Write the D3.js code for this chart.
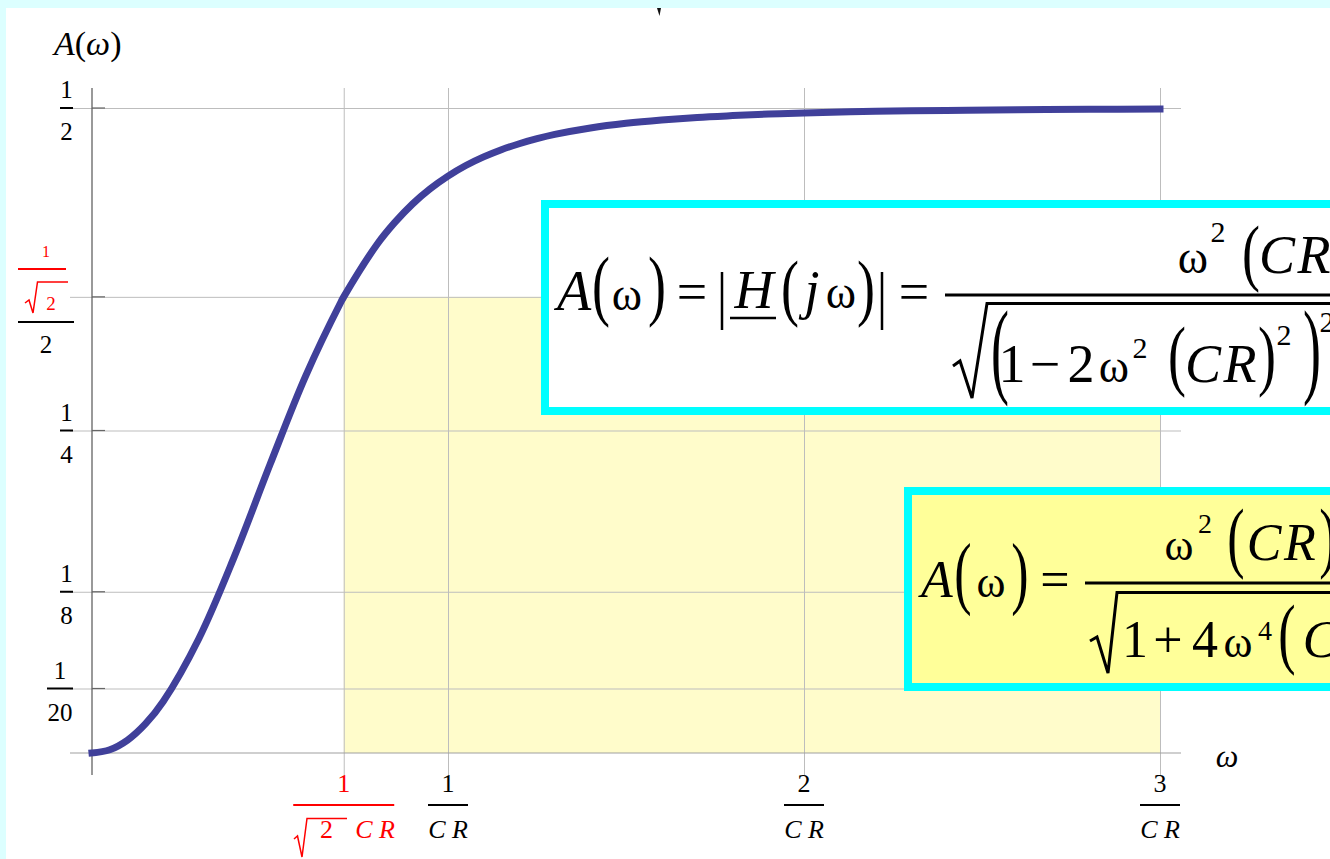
<!DOCTYPE html>
<html>
<head>
<meta charset="utf-8">
<script src="https://cdn.jsdelivr.net/npm/d3@7"></script>
<style>
  html, body { margin: 0; padding: 0; background: #d9ffff; }
  svg { display: block; }
</style>
</head>
<body>
<svg id="chart" width="1330" height="859"></svg>
<script>
// Amplitude response of the RC high-pass: omega in units of 1/(CR), A(omega) values
const omegaCR = [0, 0.05, 0.1, 0.15, 0.2, 0.3, 0.4, 0.5, 0.6, 0.7, 0.7071, 0.8, 0.85, 0.9, 0.95,
                 1.0, 1.05, 1.1, 1.15, 1.2, 1.25, 1.3, 1.4, 1.5, 1.6, 1.7, 1.8, 1.9, 2.0,
                 2.2, 2.4, 2.6, 2.8, 3.0];
const amplitude = [0, 0.0025, 0.0100, 0.0225, 0.0399, 0.0886, 0.1524, 0.2236, 0.2922, 0.3500,
                   0.3536, 0.3940, 0.4111, 0.4255, 0.4374, 0.4472, 0.4554, 0.4621, 0.4677,
                   0.4723, 0.4762, 0.4795, 0.4845, 0.4881, 0.4907, 0.4927, 0.4941, 0.4953,
                   0.4961, 0.4974, 0.4981, 0.4986, 0.4990, 0.4992];

// Tick positions and their fraction labels
const xTickValues = [0.7071, 1, 2, 3];
const xTickNumerators = ["1", "1", "2", "3"];
const yTickValues = [0.05, 0.125, 0.25, 0.3536, 0.5];
const yTickNumerators = ["1", "1", "1", "1", "1"];
const yTickDenominators = ["20", "8", "4", "2", "2"];

// Cut-off corner of the shaded region
const cutoffOmega = 0.7071;
const cutoffAmplitude = 0.3536;

const svg = d3.select("#chart");
const W = 1330, H = 859;

const x = d3.scaleLinear().domain([0, 3]).range([92, 1160]);
const y = d3.scaleLinear().domain([0, 0.5]).range([753, 108]);

const FONT = '"Liberation Serif", "Times New Roman", Times, serif';

// page background and white slide area
svg.append("rect").attr("width", W).attr("height", H).attr("fill", "#dcffff");
svg.append("rect").attr("x", 6).attr("y", 8).attr("width", W).attr("height", H).attr("fill", "#ffffff");
// small mark at the top edge
svg.append("path").attr("d", "M657,8 L661,8 L659.5,16 Z").attr("fill", "#111");

// shaded band above the cut-off
svg.append("rect")
  .attr("x", x(cutoffOmega)).attr("y", y(cutoffAmplitude))
  .attr("width", x(3) - x(cutoffOmega)).attr("height", y(0) - y(cutoffAmplitude))
  .attr("fill", "#fffccb");

// grid lines drawn with d3 axes
const gridY = svg.append("g").attr("transform", "translate(70,0)")
  .call(d3.axisLeft(y).tickValues(yTickValues).tickSize(-(1181 - 70)).tickFormat(""));
gridY.select(".domain").remove();
gridY.selectAll("line").attr("stroke", "#bdbdbd").attr("stroke-width", 1);

const gridX = svg.append("g").attr("transform", "translate(0,775)")
  .call(d3.axisBottom(x).tickValues(xTickValues).tickSize(-(775 - 88)).tickFormat(""));
gridX.select(".domain").remove();
gridX.selectAll("line").attr("stroke", "#bdbdbd").attr("stroke-width", 1);

// axes
svg.append("line").attr("x1", 70).attr("x2", 1181).attr("y1", y(0)).attr("y2", y(0))
  .attr("stroke", "#a0a0a0").attr("stroke-width", 1.2);
svg.append("line").attr("x1", x(0)).attr("x2", x(0)).attr("y1", 88).attr("y2", 775)
  .attr("stroke", "#555").attr("stroke-width", 1.2);
// short dark tick marks on the vertical axis
svg.append("g").selectAll("line").data(yTickValues).join("line")
  .attr("x1", x(0)).attr("x2", x(0) + 13)
  .attr("y1", d => y(d)).attr("y2", d => y(d))
  .attr("stroke", "#666").attr("stroke-width", 1.2);

// the response curve
const line = d3.line().x((d, i) => x(omegaCR[i])).y(d => y(d)).curve(d3.curveCatmullRom);
svg.append("path").datum(amplitude)
  .attr("d", line)
  .attr("fill", "none")
  .attr("stroke", "#40409a")
  .attr("stroke-width", 7)
  .attr("stroke-linecap", "square");

// ---- text helpers ----
function put(g, px, py, str, o = {}) {
  return g.append("text")
    .attr("x", px).attr("y", py)
    .attr("font-family", FONT)
    .attr("font-size", o.size || 22)
    .attr("font-style", o.italic ? "italic" : "normal")
    .attr("text-anchor", o.anchor || "middle")
    .attr("fill", o.fill || "#000")
    .text(str);
}
function bar(g, x1, x2, yy, color = "#000", w = 2) {
  g.append("line").attr("x1", x1).attr("x2", x2).attr("y1", yy).attr("y2", yy)
    .attr("stroke", color).attr("stroke-width", w);
}
// stretched parenthesis spanning from top to bottom, centred on cx
function paren(g, ch, cx, top, bottom, size) {
  const sy = (bottom - top) / (0.853 * size);
  const base = bottom - 0.177 * size * sy;
  g.append("text")
    .attr("transform", `translate(${cx},${base}) scale(1,${sy})`)
    .attr("font-family", FONT).attr("text-anchor", "middle")
    .attr("font-size", size).attr("fill", "#000").text(ch);
}
function radical(g, pts, color = "#000", w = 3) {
  g.append("path").attr("d", d3.line()(pts)).attr("fill", "none")
    .attr("stroke", color).attr("stroke-width", w).attr("stroke-linejoin", "miter");
}

const labels = svg.append("g");

// axis titles
const at = labels.append("text").attr("x", 54).attr("y", 55)
  .attr("font-family", FONT).attr("font-size", 34);
at.append("tspan").attr("font-style", "italic").text("A");
at.append("tspan").text("(");
at.append("tspan").attr("font-style", "italic").text("ω");
at.append("tspan").text(")");
put(labels, 1227, 767, "ω", { size: 32, italic: true });

// vertical-axis fraction labels
yTickValues.forEach((v, i) => {
  const yy = y(v);
  if (v === cutoffAmplitude) {
    // (1/√2) / 2 in red and black
    put(labels, 46, 257, yTickNumerators[i], { size: 16, fill: "#ff0000" });
    bar(labels, 18, 66, 269, "#ff0000", 2);
    radical(labels, [[25, 303], [29, 300], [33, 313], [37.5, 282], [68, 282]], "#ff0000", 1.5);
    put(labels, 51, 310, "2", { size: 19, fill: "#ff0000" });
    bar(labels, 18, 74, 322, "#000", 2);
    put(labels, 46, 353, yTickDenominators[i], { size: 25 });
    return;
  }
  const wide = yTickDenominators[i].length > 1;
  const bw = wide ? 26 : 13;
  const cx = 73 - bw / 2;
  bar(labels, 73 - bw, 73, yy, "#000", 2);
  put(labels, cx, yy - 10, yTickNumerators[i], { size: 25 });
  put(labels, cx, yy + 32, yTickDenominators[i], { size: 25 });
});

// horizontal-axis fraction labels
xTickValues.forEach((v, i) => {
  const xx = x(v);
  if (v === cutoffOmega) {
    put(labels, xx, 792, xTickNumerators[i], { size: 26, fill: "#ff0000" });
    bar(labels, xx - 50.5, xx + 50.5, 805, "#ff0000", 2);
    radical(labels, [[294, 839], [297.5, 836], [302, 857], [307, 818.5], [347, 818.5]], "#ff0000", 1.5);
    put(labels, 326.5, 838, "2", { size: 26, fill: "#ff0000" });
    put(labels, 375, 838, "C R", { size: 26, italic: true, fill: "#ff0000" });
    return;
  }
  put(labels, xx, 792, xTickNumerators[i], { size: 26 });
  bar(labels, xx - 20, xx + 20, 805, "#000", 2);
  put(labels, xx, 838, "C R", { size: 26, italic: true });
});

// ---- formula box 1: A(ω) = |H(jω)| = ω²(CR)² / √((1 − 2ω²(CR)²)² + ...) ----
const f1 = svg.append("g");
f1.append("rect").attr("x", 545).attr("y", 204).attr("width", 900).attr("height", 207)
  .attr("fill", "#ffffff").attr("stroke", "#00ffff").attr("stroke-width", 8);
put(f1, 574, 310, "A", { size: 56, italic: true });
paren(f1, "(", 601, 258, 325, 54);
put(f1, 627, 310, "ω", { size: 46 });
paren(f1, ")", 657, 258, 325, 54);
put(f1, 692, 310, "=", { size: 54 });
f1.append("line").attr("x1", 722).attr("x2", 722).attr("y1", 272).attr("y2", 330).attr("stroke", "#000").attr("stroke-width", 2.5);
put(f1, 754, 308, "H", { size: 54, italic: true });
bar(f1, 730, 776, 318, "#000", 2.5);
paren(f1, "(", 790, 262, 325, 54);
put(f1, 812, 308, "j", { size: 54, italic: true });
put(f1, 841, 308, "ω", { size: 46 });
paren(f1, ")", 866, 262, 325, 54);
f1.append("line").attr("x1", 882).attr("x2", 882).attr("y1", 272).attr("y2", 330).attr("stroke", "#000").attr("stroke-width", 2.5);
put(f1, 914, 310, "=", { size: 54 });
bar(f1, 945, 1400, 295, "#000", 3);
// numerator
put(f1, 1193, 273, "ω", { size: 46 });
put(f1, 1218, 242, "2", { size: 30 });
paren(f1, "(", 1251, 227, 290, 54);
put(f1, 1277, 273, "C", { size: 54, italic: true });
put(f1, 1314, 273, "R", { size: 54, italic: true });
paren(f1, ")", 1343, 227, 290, 54);
put(f1, 1360, 242, "2", { size: 30 });
// denominator
radical(f1, [[953, 366], [960, 361], [972, 398], [987, 303.5], [1400, 303.5]], "#000", 3);
paren(f1, "(", 1000, 312, 403, 54);
put(f1, 1012, 382, "1", { size: 54 });
put(f1, 1045, 382, "−", { size: 54 });
put(f1, 1081, 382, "2", { size: 54 });
put(f1, 1114, 382, "ω", { size: 46 });
put(f1, 1140, 358, "2", { size: 30 });
paren(f1, "(", 1177, 328, 395, 54);
put(f1, 1203, 382, "C", { size: 54, italic: true });
put(f1, 1240, 382, "R", { size: 54, italic: true });
paren(f1, ")", 1267, 328, 395, 54);
put(f1, 1284, 345, "2", { size: 30 });
paren(f1, ")", 1312, 312, 403, 54);
put(f1, 1327, 332, "2", { size: 30 });

// ---- formula box 2: A(ω) = ω²(CR)² / √(1 + 4ω⁴(CR)⁴) ----
const f2 = svg.append("g");
f2.append("rect").attr("x", 908).attr("y", 491).attr("width", 600).attr("height", 196)
  .attr("fill", "#ffff99").attr("stroke", "#00ffff").attr("stroke-width", 8);
put(f2, 937, 597, "A", { size: 52, italic: true });
paren(f2, "(", 963, 545, 613, 52);
put(f2, 991, 597, "ω", { size: 44 });
paren(f2, ")", 1020, 545, 613, 52);
put(f2, 1055, 597, "=", { size: 52 });
bar(f2, 1085, 1400, 583, "#000", 3);
put(f2, 1179, 560, "ω", { size: 44 });
put(f2, 1205, 533, "2", { size: 28 });
paren(f2, "(", 1236, 510, 577, 52);
put(f2, 1264, 560, "C", { size: 52, italic: true });
put(f2, 1300, 560, "R", { size: 52, italic: true });
paren(f2, ")", 1328, 510, 577, 52);
put(f2, 1346, 530, "2", { size: 28 });
radical(f2, [[1090, 641], [1097, 637], [1108, 673], [1117, 592.5], [1400, 592.5]], "#000", 3);
put(f2, 1135, 657, "1", { size: 52 });
put(f2, 1168, 657, "+", { size: 52 });
put(f2, 1205, 657, "4", { size: 52 });
put(f2, 1238, 657, "ω", { size: 44 });
put(f2, 1265, 640, "4", { size: 28 });
paren(f2, "(", 1287, 607, 673, 52);
put(f2, 1320, 657, "C", { size: 52, italic: true });
</script>
</body>
</html>
